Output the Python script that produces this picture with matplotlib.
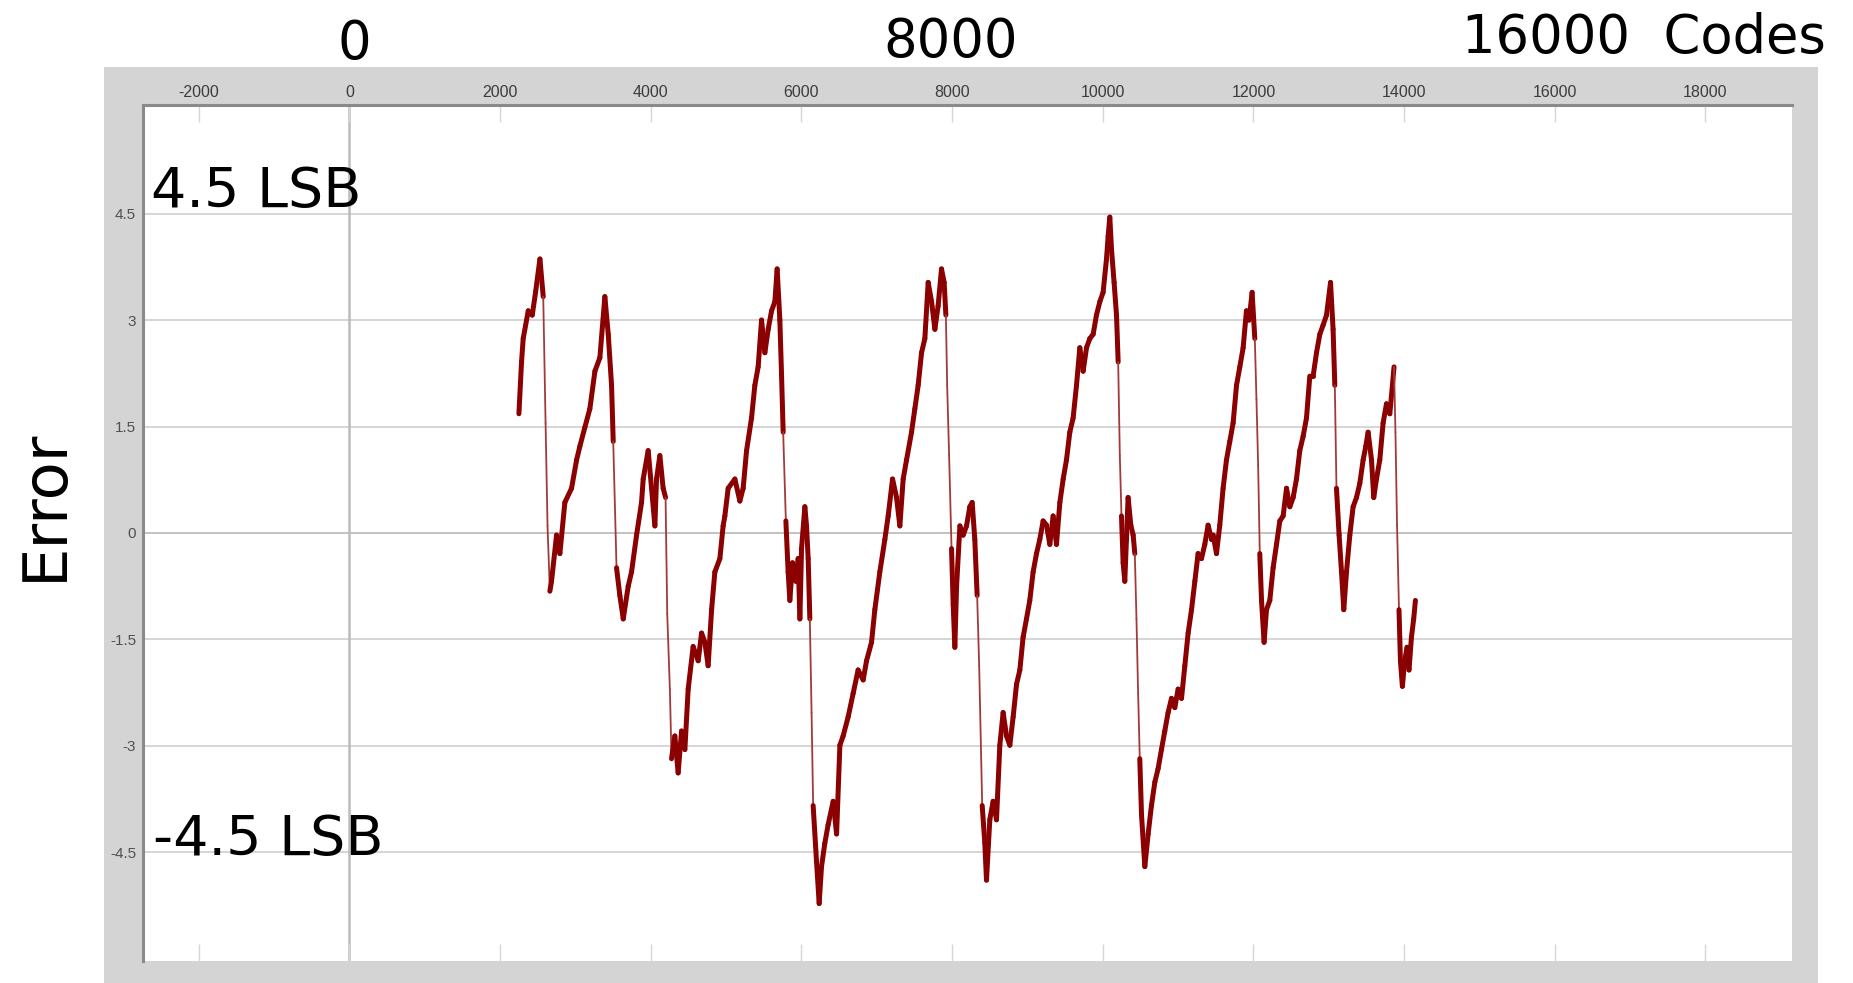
import matplotlib
matplotlib.use("Agg")
import matplotlib.pyplot as plt
import numpy as np
from matplotlib.patches import Rectangle
from matplotlib.collections import LineCollection

# ---- data -------------------------------------------------------------
codes = [
    2250, 2285, 2307, 2374, 2427, 2471, 2529, 2573, 2604, 2630, 2661, 2683,
    2750, 2794, 2860, 2949, 3016, 3059, 3126, 3192, 3259, 3325, 3391, 3436,
    3480, 3502, 3546, 3590, 3635, 3701, 3745, 3812, 3878, 3900, 3966, 4011,
    4055, 4077, 4121, 4165, 4197, 4219, 4254, 4276, 4320, 4364, 4409, 4453,
    4497, 4563, 4630, 4675, 4719, 4762, 4808, 4851, 4918, 4961, 4984, 5028,
    5117, 5183, 5227, 5272, 5338, 5382, 5426, 5471, 5515, 5559, 5604, 5648,
    5678, 5714, 5737, 5758, 5794, 5824, 5847, 5882, 5926, 5957, 5980, 6002,
    6046, 6068, 6090, 6112, 6135, 6156, 6201, 6236, 6267, 6311, 6355, 6422,
    6467, 6511, 6554, 6621, 6687, 6753, 6820, 6865, 6931, 6975, 7041, 7108,
    7152, 7210, 7263, 7307, 7351, 7396, 7462, 7506, 7550, 7595, 7639, 7683,
    7728, 7772, 7815, 7860, 7895, 7918, 7935, 7961, 7993, 8015, 8037, 8060,
    8104, 8147, 8192, 8236, 8267, 8302, 8333, 8360, 8400, 8435, 8457, 8501,
    8545, 8590, 8634, 8678, 8723, 8767, 8811, 8856, 8900, 8943, 8988, 9032,
    9076, 9121, 9165, 9209, 9254, 9298, 9342, 9386, 9431, 9475, 9519, 9563,
    9607, 9652, 9696, 9740, 9785, 9829, 9873, 9917, 9962, 10005, 10050, 10072,
    10094, 10117, 10151, 10183, 10205, 10227, 10249, 10271, 10293, 10315, 10337, 10373,
    10404, 10426, 10448, 10470, 10492, 10515, 10559, 10603, 10647, 10692, 10735, 10780,
    10824, 10868, 10913, 10957, 11001, 11046, 11090, 11134, 11179, 11223, 11266, 11311,
    11355, 11399, 11444, 11466, 11510, 11554, 11598, 11643, 11687, 11731, 11776, 11820,
    11864, 11908, 11943, 11983, 12019, 12041, 12063, 12085, 12108, 12142, 12174, 12218,
    12262, 12307, 12351, 12395, 12440, 12484, 12528, 12572, 12616, 12660, 12705, 12749,
    12793, 12838, 12882, 12926, 12971, 13024, 13058, 13081, 13103, 13138, 13170, 13200,
    13236, 13280, 13324, 13369, 13413, 13457, 13492, 13523, 13568, 13598, 13634, 13678,
    13722, 13767, 13811, 13846, 13867, 13886, 13907, 13933, 13952, 13978, 14009, 14040,
    14066, 14098, 14128, 14151,
]
error_lsb = [
    1.68, 2.41, 2.74, 3.13, 3.07, 3.39, 3.86, 3.33, 1.55, 0.10, -0.82, -0.68,
    -0.03, -0.29, 0.43, 0.63, 1.03, 1.22, 1.49, 1.75, 2.28, 2.47, 3.33, 2.80,
    2.08, 1.29, -0.49, -0.88, -1.21, -0.75, -0.55, -0.03, 0.43, 0.76, 1.16, 0.63,
    0.10, 0.76, 1.09, 0.63, 0.50, -1.14, -2.20, -3.18, -2.86, -3.38, -2.79, -3.05,
    -2.20, -1.60, -1.80, -1.41, -1.54, -1.87, -1.08, -0.55, -0.36, 0.10, 0.24, 0.63,
    0.76, 0.45, 0.63, 1.16, 1.62, 2.08, 2.34, 3.00, 2.54, 2.87, 3.13, 3.26,
    3.72, 3.00, 2.21, 1.42, 0.17, -0.55, -0.95, -0.42, -0.68, -0.36, -1.21, -0.22,
    0.37, 0.10, -0.36, -1.21, -2.53, -3.84, -4.63, -5.22, -4.70, -4.37, -4.11, -3.78,
    -4.24, -2.99, -2.86, -2.59, -2.26, -1.93, -2.07, -1.80, -1.54, -1.08, -0.55, -0.09,
    0.24, 0.76, 0.50, 0.10, 0.76, 1.03, 1.42, 1.75, 2.08, 2.54, 2.74, 3.53,
    3.26, 2.87, 3.20, 3.72, 3.53, 3.07, 2.08, 1.09, -0.22, -1.01, -1.61, -0.75,
    0.10, -0.03, 0.10, 0.37, 0.43, -0.09, -0.88, -1.87, -3.84, -4.37, -4.89, -4.04,
    -3.78, -4.04, -2.99, -2.53, -2.86, -2.99, -2.59, -2.13, -1.93, -1.47, -1.21, -0.95,
    -0.55, -0.29, -0.09, 0.17, 0.11, -0.16, 0.24, -0.16, 0.43, 0.76, 1.03, 1.42,
    1.62, 2.08, 2.61, 2.28, 2.61, 2.74, 2.80, 3.07, 3.26, 3.39, 3.86, 4.18,
    4.45, 3.99, 3.53, 3.07, 2.41, 1.09, 0.24, -0.42, -0.68, -0.09, 0.50, 0.11,
    -0.03, -0.29, -1.21, -2.26, -3.18, -3.97, -4.70, -4.24, -3.84, -3.51, -3.32, -3.05,
    -2.79, -2.53, -2.33, -2.46, -2.20, -2.33, -1.87, -1.41, -1.08, -0.68, -0.29, -0.36,
    -0.16, 0.11, -0.09, -0.03, -0.29, 0.11, 0.63, 1.03, 1.29, 1.55, 2.08, 2.34,
    2.61, 3.13, 3.00, 3.39, 2.74, 1.88, 0.96, -0.29, -0.95, -1.54, -1.08, -0.95,
    -0.49, -0.16, 0.17, 0.24, 0.63, 0.37, 0.50, 0.76, 1.16, 1.36, 1.62, 2.21,
    2.21, 2.54, 2.80, 2.93, 3.07, 3.53, 2.87, 2.08, 0.63, -0.03, -0.55, -1.08,
    -0.55, -0.03, 0.37, 0.50, 0.70, 1.03, 1.22, 1.42, 1.03, 0.50, 0.76, 1.03,
    1.55, 1.82, 1.68, 2.08, 2.34, 1.42, 0.11, -1.08, -1.80, -2.16, -1.80, -1.61,
    -1.93, -1.47, -1.21, -0.95,
]

x_ticks = [-2000, 0, 2000, 4000, 6000, 8000, 10000, 12000, 14000, 16000, 18000]
x_tick_labels = [str(t) for t in x_ticks]
y_ticks = [4.5, 3, 1.5, 0, -1.5, -3, -4.5]
y_tick_labels = ["4.5", "3", "1.5", "0", "-1.5", "-3", "-4.5"]

code_marks = ["0", "8000", "16000  Codes"]
level_marks = ["4.5 LSB", "-4.5 LSB"]

# ---- figure -----------------------------------------------------------
W, H = 1853, 983
fig = plt.figure(figsize=(W / 100, H / 100), dpi=100)
fig.patch.set_facecolor("white")


def fx(px):
    return px / W


def fy(py):
    return 1 - py / H


# grey instrument panel behind the plot
fig.patches.append(Rectangle((fx(104), 0), fx(1818) - fx(104), fy(67),
                             transform=fig.transFigure, facecolor="#d4d4d4",
                             edgecolor="none", zorder=-10))

ax = fig.add_axes([fx(143), fy(961), fx(1792) - fx(143), fy(105) - fy(961)])
ax.set_zorder(2)
ax.set_facecolor("white")
ax.set_xlim(-2740, 19150)
ax.set_ylim(-6.03, 6.03)

for yv in y_ticks:
    ax.axhline(yv, color="#bdbdbd" if yv == 0 else "#d2d2d2", lw=1.3, zorder=1)
ax.axvline(0, color="#bcbcbc", lw=1.8, zorder=1)

# error trace: the noisy ramps are drawn with a heavy pen, the fast
# falling transitions with a thin, lighter one
xs = np.asarray(codes, dtype=float)
ys = np.asarray(error_lsb, dtype=float)
pts = np.column_stack([xs, ys])
segs = np.stack([pts[:-1], pts[1:]], axis=1)
dx = np.diff(xs)
dy = np.diff(ys)
falling = (dy < -0.85) & (np.abs(dy) / dx > 0.02)
widths = np.where(falling, 1.3, 3.6)
colors = np.where(falling, "#a33a3a", "#8b0000")
lc = LineCollection(segs, linewidths=widths, colors=list(colors),
                    capstyle="round", joinstyle="round", zorder=3)
ax.add_collection(lc)

ax.set_xticks(x_ticks)
ax.set_xticklabels(x_tick_labels, fontfamily="Liberation Sans")
ax.set_yticks(y_ticks)
ax.set_yticklabels(y_tick_labels, fontfamily="Liberation Sans")
ax.tick_params(axis="x", top=True, bottom=True, labeltop=True, labelbottom=False,
               direction="in", length=12, width=1, color="#d6d6d6",
               labelsize=11.5, labelcolor="#3c3c3c", pad=3.5)
ax.tick_params(axis="y", left=True, right=False, length=0,
               labelsize=11, labelcolor="#505050", pad=5)

for side in ("bottom", "right"):
    ax.spines[side].set_visible(False)
for side in ("top", "left"):
    ax.spines[side].set_color("#8a8a8a")
    ax.spines[side].set_linewidth(2.2)

# large annotations
big = dict(fontfamily="DejaVu Sans", fontsize=38, color="black")
lsb = dict(fontfamily="DejaVu Sans", fontsize=40, color="black")
fig.text(fx(354), fy(59), code_marks[0], ha="center", va="baseline", **big)
fig.text(fx(951), fy(57), code_marks[1], ha="center", va="baseline", **big)
fig.text(fx(1462), fy(53), code_marks[2], ha="left", va="baseline", **big)
fig.text(fx(151), fy(207), level_marks[0], ha="left", va="baseline", zorder=5, **lsb)
fig.text(fx(153), fy(855), level_marks[1], ha="left", va="baseline", zorder=5, **lsb)
fig.text(fx(45), fy(505), "Error", rotation=90, ha="center", va="center",
         fontfamily="DejaVu Sans", fontsize=45, color="black")

fig.savefig("out.png", dpi=100)
